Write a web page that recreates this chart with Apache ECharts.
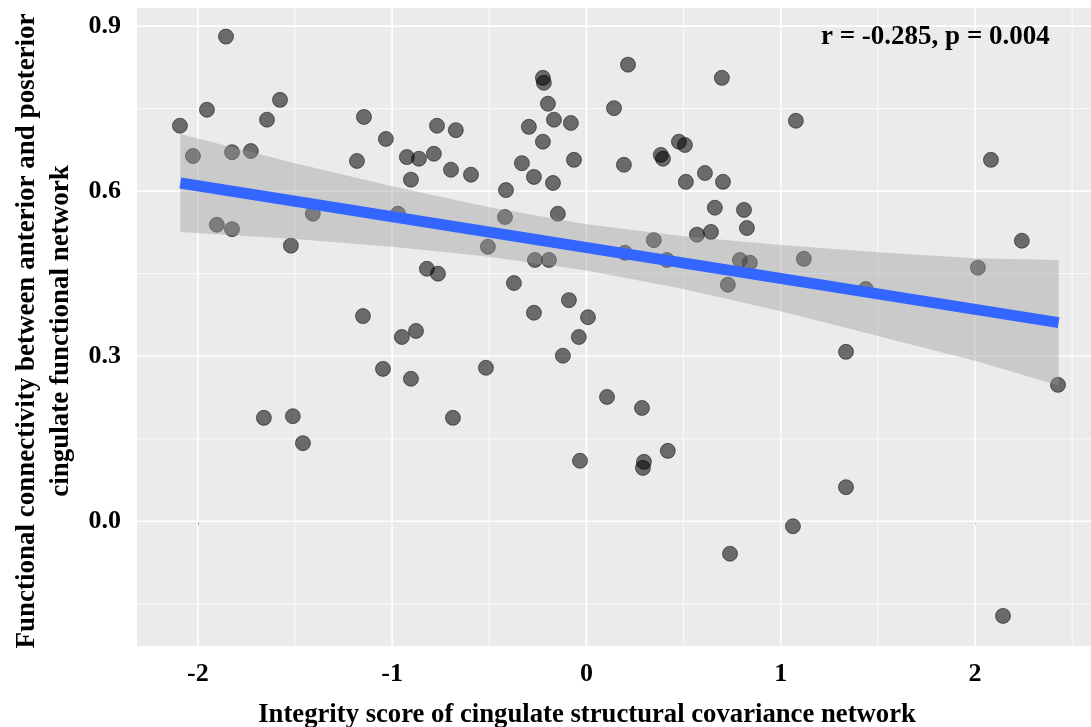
<!DOCTYPE html>
<html><head><meta charset="utf-8">
<script src="https://cdn.jsdelivr.net/npm/echarts@6/dist/echarts.min.js"></script>
<style>html,body{margin:0;padding:0;background:#fff}#c{width:1091px;height:727px}</style>
</head><body><div id="c"></div>
<script>
// ---- data ----
const pointsX = [
  -2.092,-2.025,-1.953,-1.855,-1.824,-1.727,-1.644,-1.577,-1.902,-1.824,
  -1.521,-1.408,-1.145,-1.032,-1.181,-1.150,-1.660,-1.511,-1.459,-1.047,
  -0.769,-0.672,-0.924,-0.862,-0.785,-0.697,-0.594,-0.903,-0.970,-0.821,
  -0.764,-0.877,-0.950,-0.903,-0.687,-0.517,
  -0.224,-0.219,-0.198,-0.167,-0.080,-0.296,-0.224,-0.332,-0.270,-0.172,
  -0.064,-0.414,-0.419,-0.147,-0.507,-0.265,-0.193,-0.373,-0.090,-0.270,
  0.008,-0.039,-0.121,-0.033,
  0.214,0.142,0.697,0.193,0.383,0.394,0.476,0.507,0.610,0.512,
  0.703,0.661,0.811,0.826,0.569,0.641,0.347,0.198,0.414,0.790,
  0.841,0.728,0.106,0.286,0.296,0.291,0.419,0.739,
  1.078,2.082,2.241,2.015,1.119,1.438,1.336,2.427,1.336,1.063,2.144
];
const pointsY = [
  0.719,0.664,0.748,0.881,0.671,0.673,0.730,0.766,0.539,0.531,
  0.501,0.559,0.735,0.695,0.655,0.373,0.188,0.191,0.142,0.277,
  0.719,0.711,0.662,0.659,0.668,0.639,0.630,0.621,0.559,0.459,
  0.450,0.346,0.335,0.259,0.188,0.279,
  0.806,0.797,0.759,0.730,0.724,0.717,0.690,0.651,0.626,0.615,
  0.657,0.602,0.553,0.559,0.499,0.475,0.475,0.433,0.402,0.379,
  0.371,0.335,0.301,0.110,
  0.830,0.751,0.806,0.648,0.666,0.659,0.690,0.684,0.633,0.617,
  0.617,0.570,0.566,0.533,0.521,0.526,0.511,0.488,0.475,0.475,
  0.470,0.430,0.226,0.206,0.108,0.097,0.128,-0.059,
  0.728,0.657,0.510,0.461,0.477,0.422,0.308,0.248,0.062,-0.009,-0.172
];
const fitX = [-2.09, 2.43];
const fitY = [0.615, 0.361];
const bandX     = [-2.09, -1.5, -1.0, -0.5, 0.0, 0.5, 1.0, 1.5, 2.0, 2.43];
const bandUpper = [0.704, 0.651, 0.609, 0.571, 0.540, 0.518, 0.502, 0.489, 0.478, 0.475];
const bandLower = [0.526, 0.513, 0.499, 0.481, 0.456, 0.422, 0.382, 0.337, 0.292, 0.247];
const xTicks = [-2, -1, 0, 1, 2];
const yTicks = [0, 0.3, 0.6, 0.9];
const xMinorGrid = [-1.5, -0.5, 0.5, 1.5, 2.5];
const yMinorGrid = [-0.15, 0.15, 0.45, 0.75];
const xTitle = 'Integrity score of cingulate structural covariance network';
const yTitle = 'Functional connectivity between anterior and posterior\ncingulate functional network';
const annotation = 'r = -0.285, p = 0.004';

// ---- chart ----
const FONT = "'Liberation Serif','Times New Roman',serif";
const chart = echarts.init(document.getElementById('c'), null, {renderer: 'canvas'});

function gridRender(params, api) {
  const cs = params.coordSys;
  const kids = [];
  const vline = (v, w) => {
    const x = api.coord([v, 0])[0];
    kids.push({type: 'line', shape: {x1: x, y1: cs.y, x2: x, y2: cs.y + cs.height},
      style: {stroke: '#ffffff', lineWidth: w}});
  };
  const hline = (v, w) => {
    const y = api.coord([0, v])[1];
    kids.push({type: 'line', shape: {x1: cs.x, y1: y, x2: cs.x + cs.width, y2: y},
      style: {stroke: '#ffffff', lineWidth: w}});
  };
  xMinorGrid.forEach(v => vline(v, 0.8));
  yMinorGrid.forEach(v => hline(v, 0.8));
  xTicks.forEach(v => vline(v, 1.6));
  yTicks.forEach(v => hline(v, 1.6));
  return {type: 'group', children: kids};
}

function bandRender(params, api) {
  const pts = [];
  for (let i = 0; i < bandX.length; i++) pts.push(api.coord([bandX[i], bandUpper[i]]));
  for (let i = bandX.length - 1; i >= 0; i--) pts.push(api.coord([bandX[i], bandLower[i]]));
  return {type: 'polygon', shape: {points: pts}, style: {fill: 'rgba(153,153,153,0.4)'}};
}

const option = {
  animation: false,
  backgroundColor: '#ffffff',
  grid: {left: 137, right: 0, top: 8, bottom: 81, show: true, containLabel: false,
         outerBoundsMode: 'none',
         backgroundColor: '#EBEBEB', borderWidth: 0},
  xAxis: {
    type: 'value', min: -2.313, max: 2.597,
    axisLine: {show: false},
    axisTick: {show: true, length: 4, lineStyle: {color: '#333333', width: 1}, customValues: xTicks},
    axisLabel: {customValues: xTicks, margin: 15, color: '#000', fontFamily: FONT,
                fontWeight: 'bold', fontSize: 26, formatter: v => String(v)},
    splitLine: {show: false},
    name: xTitle, nameLocation: 'middle', nameGap: 56,
    nameTextStyle: {color: '#000', fontFamily: FONT, fontWeight: 'bold', fontSize: 26.7,
                    padding: [0, 54, 0, 0]}
  },
  yAxis: {
    type: 'value', min: -0.2267, max: 0.933,
    axisLine: {show: false},
    axisTick: {show: true, length: 4, lineStyle: {color: '#333333', width: 1}, customValues: yTicks},
    axisLabel: {customValues: yTicks, margin: 16, color: '#000', fontFamily: FONT,
                fontWeight: 'bold', fontSize: 26, formatter: v => v.toFixed(1)},
    splitLine: {show: false},
    name: yTitle, nameLocation: 'middle', nameGap: 58, nameRotate: 90,
    nameTextStyle: {color: '#000', fontFamily: FONT, fontWeight: 'bold', fontSize: 27, lineHeight: 34,
                    padding: [0, 8, 0, 0]}
  },
  series: [
    {type: 'custom', z: 1, silent: true, data: [0], renderItem: gridRender, clip: true},
    {type: 'scatter', z: 2, symbolSize: 15,
     data: pointsX.map((x, i) => [x, pointsY[i]]),
     itemStyle: {color: 'rgba(0,0,0,0.55)', borderColor: 'rgba(0,0,0,0.5)', borderWidth: 1, opacity: 1}},
    {type: 'custom', z: 3, silent: true, data: [0], renderItem: bandRender},
    {type: 'line', z: 4, symbol: 'none', silent: true,
     data: fitX.map((x, i) => [x, fitY[i]]),
     lineStyle: {color: '#3366FF', width: 11, cap: 'butt'}}
  ],
  graphic: [
    {type: 'text', left: 821, top: 24, z: 10,
     style: {text: annotation, fill: '#000', font: "bold 27px " + FONT}}
  ]
};
chart.setOption(option);
</script>
</body></html>
